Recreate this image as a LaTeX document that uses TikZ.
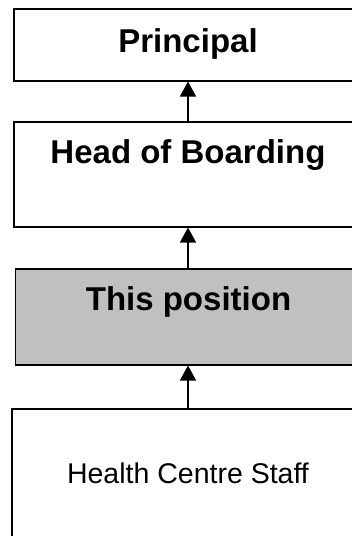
\documentclass[tikz,border=0pt]{standalone}
\usepackage{fontspec}
\setmainfont{Liberation Sans}
\usetikzlibrary{arrows.meta}

\tikzset{
  box/.style={draw, line width=1.5pt, anchor=north, inner xsep=0pt, inner ysep=0pt,
    minimum width=348pt},
  boldtext/.style={font=\bfseries\fontsize{33}{38}\selectfont},
  plaintext/.style={font=\fontsize{28.5}{34}\selectfont},
  up/.style={-{Triangle[width=16pt,length=15pt]}, line width=1.3pt}
}

\begin{document}
\begin{tikzpicture}[x=1pt,y=1pt]
    \path[use as bounding box, clip] (0,0) rectangle (352,-536);

    \node[box, boldtext, text height=44pt, text depth=28pt] (principal) at (188,-8) {Principal};
    \node[box, boldtext, text height=42pt, text depth=63pt] (boarding) at (188,-121) {Head of Boarding};
    \node[box, boldtext, fill={rgb,255:red,192;green,192;blue,192}, minimum width=346pt,
      text height=42pt, text depth=54pt] (position) at (188.5,-268) {This position};
    \node[box, plaintext, minimum width=352pt, text height=75pt, text depth=80pt] (staff) at (188,-408) {Health Centre Staff};

    \draw[up] (boarding.north) -- (principal.south);
    \draw[up] (position.north -| boarding.north) -- (boarding.south);
    \draw[up] (staff.north) -- (position.south -| staff.north);
\end{tikzpicture}
\end{document}
